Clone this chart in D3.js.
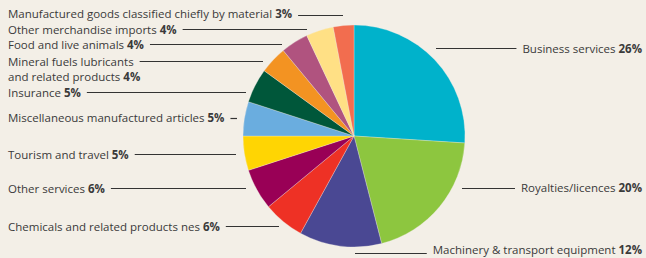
<!DOCTYPE html>
<html>
<head>
<meta charset="utf-8">
<script src="https://cdn.jsdelivr.net/npm/d3@7"></script>
<style>
    body { margin: 0; background: #f3efe7; }
    svg { display: block; }
    text { font-family: "Open Sans", sans-serif; font-size: 11.5px; fill: #3a3a3a; }
    .pct { font-weight: bold; }
</style>
</head>
<body>
<svg width="646" height="258"></svg>
<script>
// categories, clockwise from 12 o'clock
const categories = [
    "Business services", "Royalties/licences", "Machinery & transport equipment",
    "Chemicals and related products nes", "Other services", "Tourism and travel",
    "Miscellaneous manufactured articles", "Insurance",
    "Mineral fuels lubricants|and related products", "Food and live animals",
    "Other merchandise imports", "Manufactured goods classified chiefly by material"
];
const shares = [26, 20, 12, 6, 6, 5, 5, 5, 4, 4, 4, 3];
const colours = [
    "#00b2cb", "#8dc63f", "#4a4893", "#ee3125", "#990056", "#ffd503",
    "#6aaddf", "#00573a", "#f39322", "#b0537f", "#ffe085", "#f26d4f"
];

// label layout: text anchor x, text y, line y, line end x
const labelLayout = [
    {side: "right", x: 642, y: 49, ly: 48, lx: 436},
    {side: "right", x: 642, y: 188, ly: 188, lx: 462},
    {side: "right", x: 642, y: 250, ly: 253, lx: 355},
    {side: "left", x: 8, y: 227, ly: 226, lx: 279},
    {side: "left", x: 8, y: 189, ly: 188, lx: 246},
    {side: "left", x: 8, y: 155, ly: 154, lx: 236},
    {side: "left", x: 8, y: 118, ly: 118, lx: 237},
    {side: "left", x: 8, y: 93, ly: 92, lx: 246},
    {side: "left", x: 8, y: 62, ly: 61, lx: 263},
    {side: "left", x: 8, y: 45, ly: 44, lx: 282},
    {side: "left", x: 8, y: 30, ly: 29, lx: 307},
    {side: "left", x: 8, y: 14, ly: 15, lx: 343}
];

function draw() {
    let svg = d3.select("svg");
    let cx = 354, cy = 136, radius = 111;

    let pie = d3.pie().sort(null).value(d => d);
    let arc = d3.arc().innerRadius(0).outerRadius(radius);

    let g = svg.append("g").attr("transform", `translate(${cx},${cy})`);
    g.selectAll("path")
        .data(pie(shares))
        .enter().append("path")
        .attr("d", arc)
        .attr("fill", (d, i) => colours[i])
        .attr("stroke", "#f3efe7")
        .attr("stroke-width", 0.3);

    let labels = svg.append("g");
    categories.forEach((name, i) => {
        let lay = labelLayout[i];
        let lines = name.split("|");
        let t = labels.append("text")
            .attr("x", lay.x)
            .attr("y", lay.y)
            .attr("text-anchor", lay.side == "right" ? "end" : "start");
        lines.forEach((ln, j) => {
            t.append("tspan")
                .attr("x", lay.x)
                .attr("dy", j == 0 ? "0.35em" : "1.3em")
                .text(ln + (j == lines.length - 1 ? " " : ""));
        });
        t.append("tspan").attr("class", "pct").text(shares[i] + "%");

        // leader line starts next to the first line of text
        let firstW = lines.length == 1
            ? t.node().getComputedTextLength()
            : t.select("tspan").node().getComputedTextLength();
        let x1 = lay.side == "right" ? lay.x - firstW - 6 : lay.x + firstW + 6;
        labels.append("line")
            .attr("x1", x1).attr("x2", lay.lx)
            .attr("y1", lay.ly + 0.5).attr("y2", lay.ly + 0.5)
            .attr("stroke", "#333")
            .attr("stroke-width", 1.2);
    });
}

draw();
</script>
</body>
</html>
